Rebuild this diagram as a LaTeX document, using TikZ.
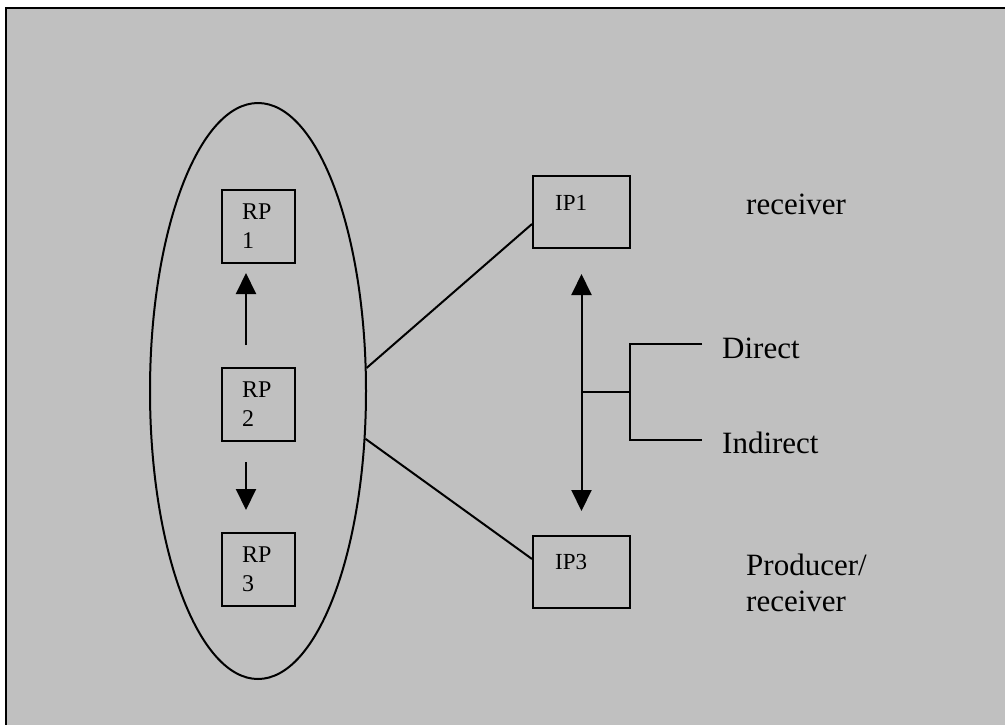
\documentclass[tikz,border=0pt]{standalone}
\usepackage{fontspec}
\setmainfont{Liberation Serif}
\usetikzlibrary{arrows.meta,shapes.geometric}
\definecolor{panel}{HTML}{C0C0C0}
\tikzset{
  wire/.style={line width=2pt},
  tri/.style={wire,-{Triangle[width=20pt,length=21pt]}},
  tritwo/.style={wire,{Triangle[width=20pt,length=21pt]}-{Triangle[width=20pt,length=21pt]}},
  rpbox/.style={draw,line width=2pt,minimum width=73pt,minimum height=73pt,inner sep=0pt,
    text width=33pt,align=left,font=\fontsize{24}{29}\selectfont},
  ipbox/.style={draw,line width=2pt,minimum width=97pt,minimum height=72pt,inner sep=0pt},
  small/.style={font=\fontsize{23}{28}\selectfont,inner sep=0pt},
  big/.style={font=\fontsize{31}{36}\selectfont,inner sep=0pt}
}
\begin{document}
\begin{tikzpicture}[x=1pt,y=-1pt]
\useasboundingbox (0,0) rectangle (1005,724);
\fill[white] (0,0) rectangle (1005,724);
\begin{scope}
\clip (0,0) rectangle (1005,724);
\draw[fill=panel,line width=2.6pt] (6,8) rectangle (1030,760);
\end{scope}
% ellipse group
\node[draw,ellipse,line width=2pt,minimum width=216pt,minimum height=576pt,inner sep=0pt] (ell) at (258,391) {};
\node[rpbox] (rp1) at (258.5,226) {RP\\1};
\node[rpbox] (rp2) at (258.5,404.5) {RP\\2};
\node[rpbox] (rp3) at (258.5,569) {RP\\3};
\draw[tri] (246,345) -- (246,273);
\draw[tri] (246,462) -- (246,510);
% IP boxes
\node[ipbox] (ip1) at (581.5,212) {};
\node[small,anchor=base west] (ip1t) at (555,210) {IP1};
\node[ipbox] (ip3) at (581.5,572) {};
\node[small,anchor=base west] (ip3t) at (555,569) {IP3};
\draw[wire] (ell.12.5) -- ([yshift=-12pt]ip1.west);
\draw[wire] (ell.-24.4) -- ([yshift=13pt]ip3.west);
\draw[tritwo] ([yshift=-25pt]ip1.south) -- ([yshift=24pt]ip3.north);
% branch
\coordinate (br) at (582,392);
\coordinate (bj) at (630,392);
\node[big,anchor=base west] (direct) at (722,358) {Direct};
\node[big,anchor=base west] (indirect) at (722,453) {Indirect};
\draw[wire] (br) -- (bj);
\draw[wire] (702,344) -- (630,344) -- (630,440) -- (702,440);
% role labels
\node[big,anchor=base west] (recv) at (746,214) {receiver};
\node[big,anchor=base west] (prod) at (746,575) {Producer/};
\node[big,anchor=base west] (prod2) at (746,611) {receiver};
\end{tikzpicture}
\end{document}
